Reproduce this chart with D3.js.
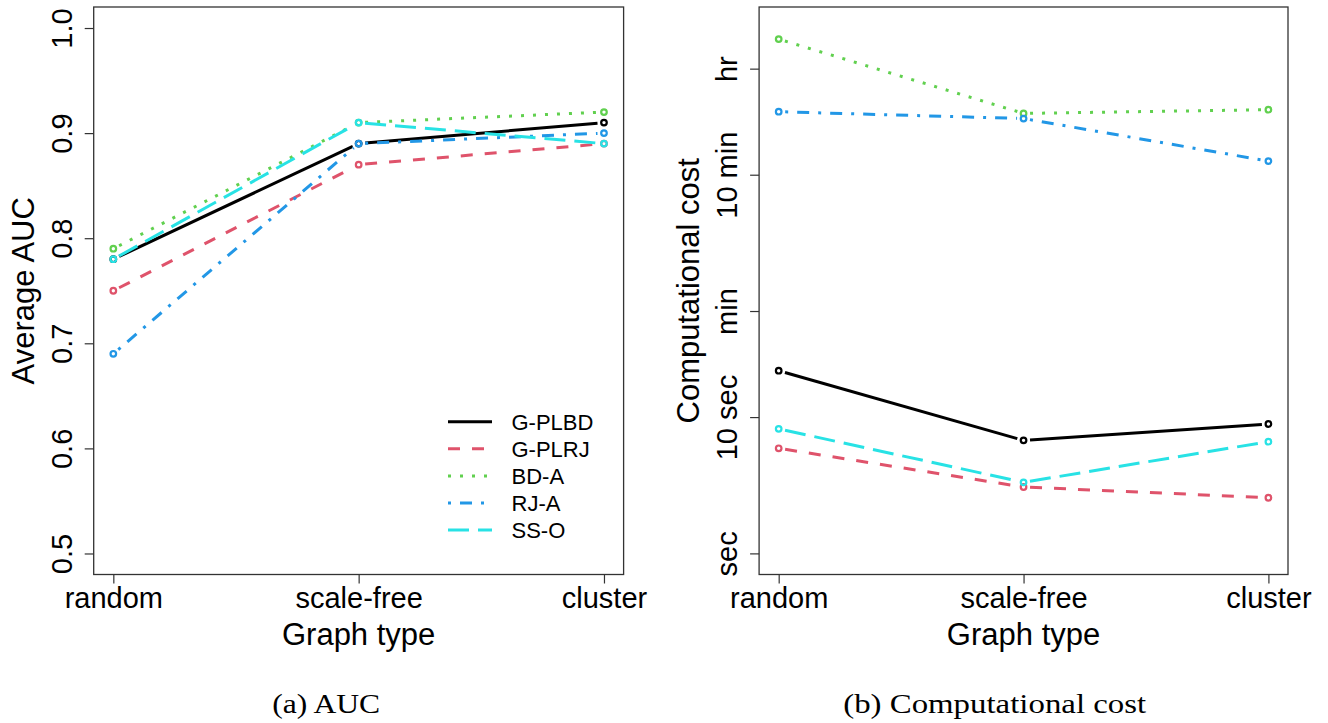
<!DOCTYPE html>
<html>
<head>
<meta charset="utf-8">
<script src="https://cdn.jsdelivr.net/npm/d3@7/dist/d3.min.js"></script>
<style>
  body { margin: 0; background: #fff; }
  svg text { font-family: "Liberation Sans", Arial, sans-serif; fill: #000; }
  svg text.caption { font-family: "Liberation Serif", "Times New Roman", serif; }
</style>
</head>
<body>
<svg id="figure" width="1328" height="723"></svg>
<script>
// Data
const graphTypes = ['random', 'scale-free', 'cluster'];
const methods = ['G-PLBD', 'G-PLRJ', 'BD-A', 'RJ-A', 'SS-O'];

// average AUC, one row per method
const aucValues = [
    [0.78, 0.89, 0.91],
    [0.75, 0.87, 0.89],
    [0.79, 0.91, 0.92],
    [0.69, 0.89, 0.90],
    [0.78, 0.91, 0.89]
];

// computational cost in seconds, one row per method
const costValues = [
    [21.9, 6.75, 8.9],
    [5.9, 3.07, 2.56],
    [5930, 1690, 1800],
    [1740, 1550, 755],
    [8.2, 3.32, 6.6]
];

const aucTicks = [0.5, 0.6, 0.7, 0.8, 0.9, 1.0];
const costTicks = [1, 10, 60, 600, 3600];
const costTickLabels = ['sec', '10 sec', 'min', '10 min', 'hr'];

// R default palette and lty 1..5
const colors = ['#000000', '#DF536B', '#61D04F', '#2297E6', '#28E2E5'];
const dashes = [null, '12,12', '3,9', '3,9,12,9', '21,9'];

const svg = d3.select('#figure');
svg.append('rect').attr('width', 1328).attr('height', 723).attr('fill', '#fff');

function linePanel() {
    let box;
    let yScale;
    let yTicks;
    let yFormat = d => d;
    let yTitle;
    let xTitle = 'Graph type';
    let gap = 6.5;

    function exports(_selection, series) {
        const xScale = d3.scalePoint()
            .domain(graphTypes)
            .range([box.left, box.right])
            .padding(0.08);

        const g = _selection.append('g');

        // box
        g.append('rect')
            .attr('x', box.left)
            .attr('y', box.top)
            .attr('width', box.right - box.left)
            .attr('height', box.bottom - box.top)
            .attr('fill', 'none')
            .attr('stroke', '#333')
            .attr('stroke-width', 1.3);

        // axes
        const xAxis = g.append('g')
            .attr('transform', `translate(0,${box.bottom})`)
            .call(d3.axisBottom(xScale).tickSize(9).tickSizeOuter(0));
        xAxis.select('.domain').remove();
        xAxis.selectAll('line').attr('stroke', '#333').attr('stroke-width', 1.2);
        xAxis.selectAll('text')
            .attr('y', 33)
            .attr('dy', null)
            .attr('fill', '#000')
            .style('font-size', '29px')
            .style('font-family', '"Liberation Sans", Arial, sans-serif');

        const yAxis = g.append('g')
            .attr('transform', `translate(${box.left},0)`)
            .call(d3.axisLeft(yScale).tickValues(yTicks).tickFormat(yFormat).tickSize(9).tickSizeOuter(0));
        yAxis.select('.domain').remove();
        yAxis.selectAll('line').attr('stroke', '#333').attr('stroke-width', 1.2);
        yAxis.selectAll('text')
            .attr('transform', 'rotate(-90)')
            .attr('x', 0)
            .attr('y', -22)
            .attr('dy', null)
            .attr('text-anchor', 'middle')
            .attr('fill', '#000')
            .style('font-size', '29px')
            .style('font-family', '"Liberation Sans", Arial, sans-serif');

        // titles
        g.append('text')
            .attr('x', (box.left + box.right) / 2)
            .attr('y', 645)
            .attr('text-anchor', 'middle')
            .style('font-size', '31px')
            .text(xTitle);

        g.append('text')
            .attr('transform', `translate(${box.left - 60},${(box.top + box.bottom) / 2}) rotate(-90)`)
            .attr('text-anchor', 'middle')
            .style('font-size', '31px')
            .text(yTitle);

        // series, drawn as R type = "b"
        const segments = vals => d3.pairs(vals.map((v, j) => [xScale(graphTypes[j]), yScale(v)]))
            .map(([a, b]) => {
                const dx = b[0] - a[0];
                const dy = b[1] - a[1];
                const len = Math.hypot(dx, dy);
                const ux = dx / len;
                const uy = dy / len;
                return [a[0] + ux * gap, a[1] + uy * gap, b[0] - ux * gap, b[1] - uy * gap];
            });

        const groups = g.append('g')
            .selectAll('.series')
            .data(series)
            .join('g')
            .classed('series', true);

        groups.selectAll('line')
            .data((d, i) => segments(d).map(s => ({s, i})))
            .join('line')
            .attr('x1', d => d.s[0])
            .attr('y1', d => d.s[1])
            .attr('x2', d => d.s[2])
            .attr('y2', d => d.s[3])
            .attr('stroke', d => colors[d.i])
            .attr('stroke-width', 3)
            .attr('stroke-dasharray', d => dashes[d.i]);

        groups.selectAll('circle')
            .data((d, i) => d.map((v, j) => ({v, j, i})))
            .join('circle')
            .attr('cx', d => xScale(graphTypes[d.j]))
            .attr('cy', d => yScale(d.v))
            .attr('r', 2.8)
            .attr('fill', 'none')
            .attr('stroke', d => colors[d.i])
            .attr('stroke-width', 2.2);

        return g;
    }

    exports.box = function(_x) { box = _x; return this; };
    exports.yScale = function(_x) { yScale = _x; return this; };
    exports.yTicks = function(_x) { yTicks = _x; return this; };
    exports.yFormat = function(_x) { yFormat = _x; return this; };
    exports.yTitle = function(_x) { yTitle = _x; return this; };

    return exports;
}

// (a) AUC
const leftBox = {left: 93.7, right: 623.6, top: 7, bottom: 574.5};
const aucPanel = linePanel()
    .box(leftBox)
    .yScale(d3.scaleLinear().domain([0.48, 1.02]).range([leftBox.bottom, leftBox.top]))
    .yTicks(aucTicks)
    .yFormat(d3.format('.1f'))
    .yTitle('Average AUC');
const left = aucPanel(svg, aucValues);

// legend
const legend = left.append('g').attr('transform', 'translate(448,421.7)');
const rows = legend.selectAll('g')
    .data(methods)
    .join('g')
    .attr('transform', (d, i) => `translate(0,${i * 27.1})`);
rows.append('line')
    .attr('x1', 0)
    .attr('x2', 44)
    .attr('stroke', (d, i) => colors[i])
    .attr('stroke-width', 3)
    .attr('stroke-dasharray', (d, i) => dashes[i]);
rows.append('text')
    .attr('x', 63.5)
    .attr('dy', '0.36em')
    .style('font-size', '22px')
    .text(d => d);

// (b) Computational cost
const rightBox = {left: 759.1, right: 1288, top: 7, bottom: 574.5};
const costPanel = linePanel()
    .box(rightBox)
    .yScale(d3.scaleLog().domain([0.7, 10200]).range([rightBox.bottom, rightBox.top]))
    .yTicks(costTicks)
    .yFormat(d => costTickLabels[costTicks.indexOf(d)])
    .yTitle('Computational cost');
costPanel(svg, costValues);

// captions
svg.append('text')
    .classed('caption', true)
    .attr('x', 326.2)
    .attr('y', 713)
    .attr('text-anchor', 'middle')
    .attr('textLength', 108)
    .attr('lengthAdjust', 'spacingAndGlyphs')
    .style('font-size', '27px')
    .text('(a) AUC');

svg.append('text')
    .classed('caption', true)
    .attr('x', 994.7)
    .attr('y', 713)
    .attr('text-anchor', 'middle')
    .attr('textLength', 303)
    .attr('lengthAdjust', 'spacingAndGlyphs')
    .style('font-size', '27px')
    .text('(b) Computational cost');
</script>
</body>
</html>
